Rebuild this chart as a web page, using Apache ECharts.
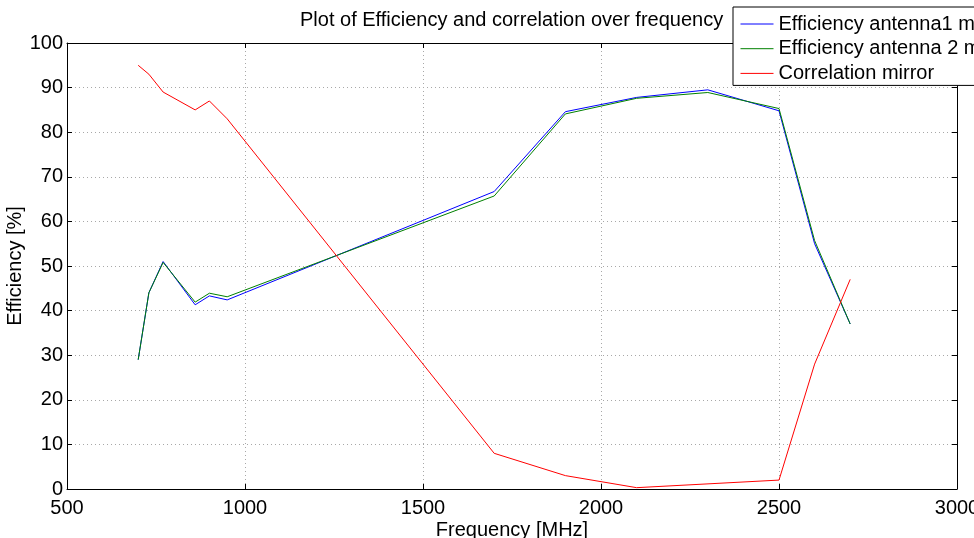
<!DOCTYPE html>
<html>
<head>
<meta charset="utf-8">
<script src="https://cdn.jsdelivr.net/npm/echarts@6/dist/echarts.min.js"></script>
<style>
html,body{margin:0;padding:0;background:#fff;}
#chart{width:974px;height:538px;}
</style>
</head>
<body>
<div id="chart"></div>
<script>
const freq = [700, 730, 770, 860, 900, 950, 1700, 1900, 2100, 2300, 2500, 2600, 2700];
const effAnt1 = [29, 44, 51, 41.3, 43.3, 42.4, 66.7, 84.6, 87.8, 89.5, 84.8, 55, 37];
const effAnt2 = [29, 44, 50.8, 41.9, 43.9, 43.1, 65.7, 84.1, 87.6, 88.9, 85.3, 55.7, 37];
const freqCorr = [700, 730, 770, 860, 900, 950, 1700, 1900, 2100, 2500, 2600, 2700];
const corrMirror = [95, 93, 89, 85, 87, 83, 8, 3, 0.3, 2, 28, 47];
const seriesNames = ['Efficiency antenna1 mirror', 'Efficiency antenna 2 mirror', 'Correlation mirror'];
const titleText = 'Plot of Efficiency and correlation over frequency';

const pairs = (xs, ys) => xs.map((x, i) => [x, ys[i]]);
const FONT = "'Liberation Sans', Arial, Helvetica, sans-serif";

const chart = echarts.init(document.getElementById('chart'), null, {renderer: 'canvas'});
const gridSplit = {show: true, lineStyle: {color: '#a8a8a8', type: [1, 3], width: 1}};
const axLine = {show: true, onZero: false, lineStyle: {color: '#000', width: 1}};
const axTick = {show: true, inside: true, length: 5, lineStyle: {color: '#000'}};
const plain = v => String(v);

chart.setOption({
  animation: false,
  backgroundColor: '#fff',
  textStyle: {fontFamily: FONT},
  title: {
    text: titleText,
    left: 300, top: 10, padding: 0,
    textStyle: {fontFamily: FONT, fontSize: 20, fontWeight: 'normal', color: '#000'}
  },
  legend: {
    orient: 'vertical',
    left: 733, top: 7,
    padding: [7, 300, 2, 7],
    itemWidth: 33, itemHeight: 20, itemGap: 4.7,
    backgroundColor: '#fff',
    borderColor: '#000', borderWidth: 1,
    itemStyle: {opacity: 0},
    lineStyle: {width: 1},
    textStyle: {fontFamily: FONT, fontSize: 20, color: '#000'},
    data: seriesNames
  },
  grid: {left: 67, right: 17, top: 43, bottom: 49, containLabel: false, outerBoundsMode: 'none'},
  xAxis: [{
    type: 'value', min: 500, max: 3000, interval: 500,
    name: 'Frequency [MHz]', nameLocation: 'middle', nameGap: 31, nameMoveOverlap: false,
    nameTextStyle: {fontFamily: FONT, fontSize: 20, color: '#000'},
    axisLine: axLine, axisTick: axTick,
    axisLabel: {color: '#000', fontSize: 20, fontFamily: FONT, margin: 9, formatter: plain},
    splitLine: gridSplit
  }, {
    type: 'value', min: 500, max: 3000, interval: 500, position: 'top',
    axisLine: axLine, axisTick: axTick, axisLabel: {show: false}, splitLine: {show: false}
  }],
  yAxis: [{
    type: 'value', min: 0, max: 100, interval: 10,
    name: 'Efficiency [%]', nameLocation: 'middle', nameGap: 42, nameMoveOverlap: false,
    nameTextStyle: {fontFamily: FONT, fontSize: 20, color: '#000'},
    axisLine: axLine, axisTick: axTick,
    axisLabel: {color: '#000', fontSize: 20, fontFamily: FONT, margin: 4, formatter: plain},
    splitLine: gridSplit
  }, {
    type: 'value', min: 0, max: 100, interval: 10, position: 'right',
    axisLine: axLine, axisTick: axTick, axisLabel: {show: false}, splitLine: {show: false}
  }],
  series: [
    {name: seriesNames[0], type: 'line', symbol: 'none', data: pairs(freq, effAnt1),
     lineStyle: {color: '#0000ff', width: 1}, itemStyle: {color: '#0000ff'}, z: 3},
    {name: seriesNames[1], type: 'line', symbol: 'none', data: pairs(freq, effAnt2),
     lineStyle: {color: '#008000', width: 1}, itemStyle: {color: '#008000'}, z: 4},
    {name: seriesNames[2], type: 'line', symbol: 'none', data: pairs(freqCorr, corrMirror),
     lineStyle: {color: '#ff0000', width: 1}, itemStyle: {color: '#ff0000'}, z: 5}
  ]
});
</script>
</body>
</html>
